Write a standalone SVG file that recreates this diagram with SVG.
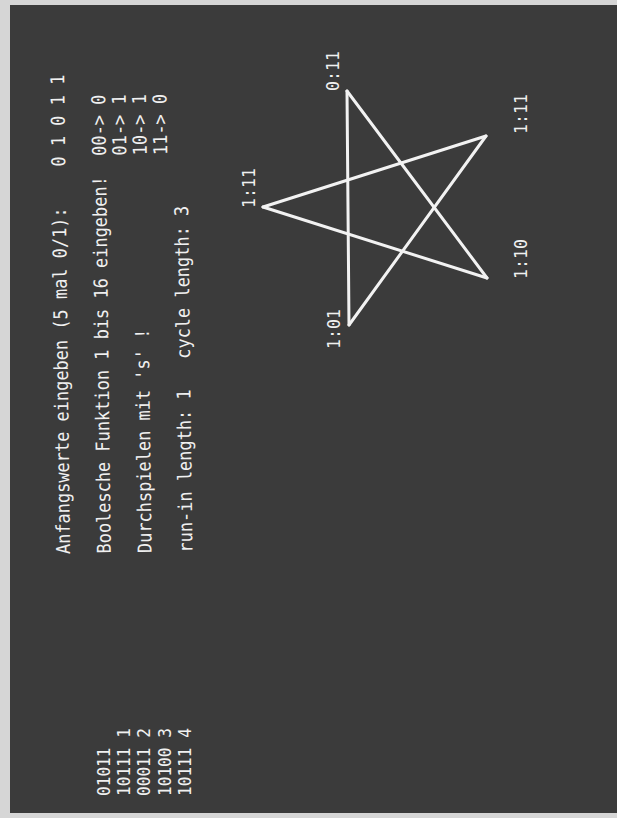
<svg xmlns="http://www.w3.org/2000/svg" width="617" height="818" viewBox="0 0 617 818">
<style>
  .t { font-family: "DejaVu Sans Mono", "Liberation Mono", monospace; fill: #f0f0f0; }
  .m { font-size: 19px; }
  .n { font-size: 17px; }
  .edge { stroke: #f2f2f2; stroke-width: 3; stroke-linecap: round; fill: none; }
</style>
<rect x="0" y="0" width="617" height="818" fill="#d6d6d6"/>
<rect id="screen" x="10" y="5" width="607" height="808" fill="#3b3b3b"/>

<g id="main-text" transform="translate(70,554) rotate(-90.7)">
  <text class="t m" x="0" y="0" textLength="346.8" lengthAdjust="spacingAndGlyphs">Anfangswerte eingeben (5 mal 0/1):</text>
  <text class="t m" x="387.6" y="0" textLength="91.8" lengthAdjust="spacingAndGlyphs" xml:space="preserve">0 1 0 1 1</text>
  <text class="t m" x="0" y="40.8" textLength="377.4" lengthAdjust="spacingAndGlyphs">Boolesche Funktion 1 bis 16 eingeben!</text>
  <text class="t m" x="397.8" y="40.8" textLength="61.2" lengthAdjust="spacingAndGlyphs" xml:space="preserve">00-&gt; 0</text>
  <text class="t m" x="397.8" y="61.2" textLength="61.2" lengthAdjust="spacingAndGlyphs" xml:space="preserve">01-&gt; 1</text>
  <text class="t m" x="0" y="81.6" textLength="224.4" lengthAdjust="spacingAndGlyphs" xml:space="preserve">Durchspielen mit 's' !</text>
  <text class="t m" x="397.8" y="81.6" textLength="61.2" lengthAdjust="spacingAndGlyphs" xml:space="preserve">10-&gt; 1</text>
  <text class="t m" x="397.8" y="102" textLength="61.2" lengthAdjust="spacingAndGlyphs" xml:space="preserve">11-&gt; 0</text>
  <text class="t m" x="0" y="122.4" textLength="346.8" lengthAdjust="spacingAndGlyphs" xml:space="preserve">run-in length: 1   cycle length: 3</text>
</g>

<g id="sequence" transform="translate(0,796) rotate(-90)">
  <text class="t n" x="0" y="110" textLength="48.5" lengthAdjust="spacingAndGlyphs">01011</text>
  <text class="t n" x="0" y="130.2" textLength="67.9" lengthAdjust="spacingAndGlyphs" xml:space="preserve">10111 1</text>
  <text class="t n" x="0" y="150.4" textLength="67.9" lengthAdjust="spacingAndGlyphs" xml:space="preserve">00011 2</text>
  <text class="t n" x="0" y="170.6" textLength="67.9" lengthAdjust="spacingAndGlyphs" xml:space="preserve">10100 3</text>
  <text class="t n" x="0" y="190.8" textLength="67.9" lengthAdjust="spacingAndGlyphs" xml:space="preserve">10111 4</text>
</g>

<g id="connectors">
  <line class="edge" x1="347" y1="91" x2="487" y2="278"/>
  <line class="edge" x1="487" y1="278" x2="263" y2="207"/>
  <line class="edge" x1="263" y1="207" x2="486" y2="136"/>
  <line class="edge" x1="486" y1="136" x2="349" y2="325"/>
  <line class="edge" x1="349" y1="325" x2="347" y2="91"/>
</g>

<g id="node-top">
  <text class="t n" transform="translate(339,91) rotate(-90)" textLength="40" lengthAdjust="spacingAndGlyphs">0:11</text>
</g>
<g id="node-left">
  <text class="t n" transform="translate(255,208) rotate(-90)" textLength="40" lengthAdjust="spacingAndGlyphs">1:11</text>
</g>
<g id="node-right-top">
  <text class="t n" transform="translate(527,134) rotate(-90)" textLength="40" lengthAdjust="spacingAndGlyphs">1:11</text>
</g>
<g id="node-right-bottom">
  <text class="t n" transform="translate(527,279) rotate(-90)" textLength="40" lengthAdjust="spacingAndGlyphs">1:10</text>
</g>
<g id="node-bottom">
  <text class="t n" transform="translate(340,349) rotate(-90)" textLength="40" lengthAdjust="spacingAndGlyphs">1:01</text>
</g>
</svg>
